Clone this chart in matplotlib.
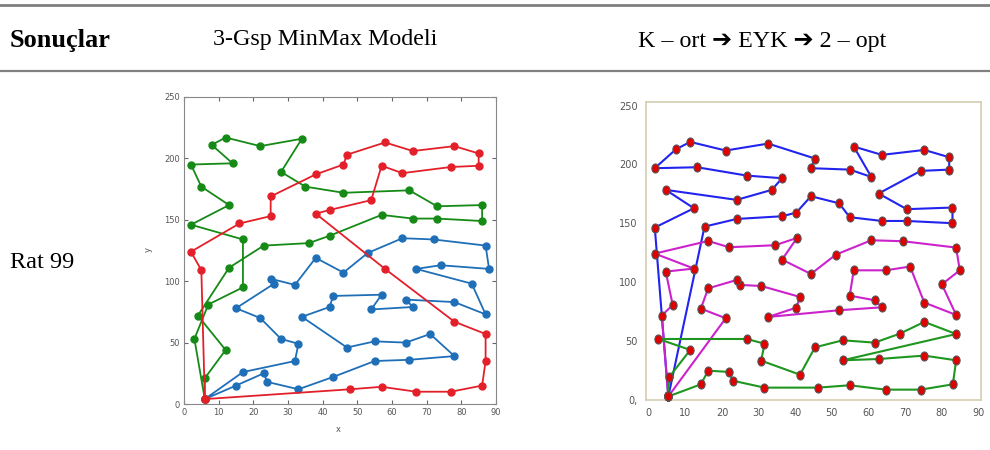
import matplotlib
matplotlib.use("Agg")
import matplotlib.pyplot as plt
from matplotlib.lines import Line2D
from matplotlib.markers import MarkerStyle
from matplotlib.transforms import Affine2D

# header texts
COL_TITLES = ["Sonuçlar", "3-Gsp MinMax Modeli", "K – ort ➔ EYK ➔ 2 – opt"]
ROW_LABEL = "Rat 99"

# left panel: 3-Gsp MinMax routes (depot first and last)
L_BLUE_X = [6, 17, 32, 33, 28, 22, 15, 26, 25, 32, 38, 46, 53, 63, 72, 87, 88, 74, 67, 83, 87,
            78, 64, 66, 54, 57, 43, 42, 34, 47, 55, 64, 71, 78, 65, 55, 43, 33, 24, 23, 15, 6]
L_BLUE_Y = [4, 26, 35, 49, 53, 70, 78, 98, 102, 97, 119, 107, 123, 135, 134, 129, 110, 113, 110, 98, 73,
            83, 85, 79, 77, 89, 88, 79, 71, 46, 51, 50, 57, 39, 36, 35, 22, 12, 18, 25, 15, 4]
L_GREEN_X = [6, 6, 12, 4, 13, 23, 36, 42, 57, 66, 73, 86, 86, 73, 65, 46, 35, 28, 34, 22,
             12, 8, 14, 2, 5, 13, 2, 17, 17, 7, 3, 6]
L_GREEN_Y = [4, 21, 44, 72, 111, 129, 131, 137, 154, 151, 151, 149, 162, 161, 174, 172, 177, 189, 216, 210,
             217, 211, 196, 195, 177, 162, 146, 134, 95, 81, 53, 4]
L_RED_X = [6, 48, 57, 67, 77, 86, 87, 87, 78, 58, 38, 42, 54, 57, 63, 77, 85, 85, 78, 66,
           58, 47, 46, 38, 25, 25, 16, 2, 5, 6]
L_RED_Y = [4, 12, 14, 10, 10, 15, 35, 57, 67, 110, 155, 158, 166, 194, 188, 193, 194, 204, 210, 206,
           213, 203, 195, 187, 169, 153, 147, 124, 109, 4]

# right panel: K-ort -> EYK -> 2-opt routes
R_BLUE_X = [5.3, 1.6, 12.3, 4.6, 24, 33.6, 36.4, 26.8, 13.2, 1.6, 7.4, 11.3, 21, 32.6, 45.4, 44.3, 54.9,
            60.8, 56, 63.7, 75.3, 82.1, 82.1, 74.3, 62.8, 70.5, 83, 83, 70.5, 63.7, 54.9, 52, 44.3,
            40.3, 36.4, 24, 15.2, 5.3]
R_BLUE_Y = [3, 146.4, 162.8, 178.4, 169.9, 178.4, 188.3, 190.5, 197.6, 196.8, 212.9, 219.1, 211.8, 217.7,
            205, 196.8, 195.6, 189.4, 215.2, 208.1, 212.3, 206.1, 195.6, 194.5, 175.3, 162, 163.4,
            150.1, 152, 152, 155.2, 167, 173, 159.1, 156, 153.7, 147.2, 3]
R_MAG_X = [5.3, 3.5, 6.5, 4.6, 12.3, 1.6, 16.2, 21.9, 34.5, 40.5, 36.4, 44.3, 51.1, 60.8, 69.5, 84, 85,
           80.1, 84, 75.3, 71.4, 64.8, 56, 54.9, 61.7, 63.7, 52, 32.6, 40.3, 41.3, 30.7, 24.9, 24,
           16.2, 14.2, 21, 5.3]
R_MAG_Y = [3, 71.6, 80.7, 109, 111.6, 124.3, 135, 129.7, 131.4, 137.6, 119.2, 107, 123.4, 135.6, 134.8,
           129.4, 110.1, 98.2, 72.2, 82.7, 113.3, 110.1, 110.1, 88.6, 84.7, 78.7, 76.2, 70.5, 78.4,
           87.5, 96.8, 97.7, 101.9, 94.8, 77.6, 69.4, 3]
R_GREEN_X = [5.3, 5.5, 11.3, 2.6, 26.8, 31.6, 30.7, 41.3, 45.4, 53, 61.7, 68.6, 75.3, 84, 53, 62.8,
             75.3, 84, 83.1, 74.3, 64.7, 54.9, 46.2, 31.6, 22.9, 22, 16.2, 14.2, 5.3]
R_GREEN_Y = [3, 19.3, 42.5, 51.8, 51.8, 47.8, 33.4, 21.5, 44.7, 50.7, 48.7, 56.3, 66.3, 56, 33.7, 34.8,
             37.7, 33.7, 13.3, 8.8, 8.8, 12.5, 10.5, 10.5, 16.4, 23.8, 24.9, 13.3, 3]

X_TICKS = [0, 10, 20, 30, 40, 50, 60, 70, 80, 90]
Y_TICKS = [0, 50, 100, 150, 200, 250]
R_Y_LABELS = ["0,", "50", "100", "150", "200", "250"]

W, H = 990, 450
SERIF = ["Liberation Serif", "DejaVu Sans"]

fig = plt.figure(figsize=(W / 100, H / 100), dpi=100)


def px(x, y):
    return x / W, 1 - y / H


# table rules
for yy, lw in [(5, 2.0), (71, 1.6)]:
    fig.add_artist(Line2D([0, 1], [1 - yy / H] * 2, transform=fig.transFigure, color="#808080", lw=lw))

fig.text(*px(10, 40), COL_TITLES[0], family=SERIF, fontsize=19, fontweight="bold", va="center")
fig.text(*px(213, 40), COL_TITLES[1], family=SERIF, fontsize=17.3, va="center")
fig.text(*px(638, 41), COL_TITLES[2], family=SERIF, fontsize=17.3, va="center")
fig.text(*px(10, 262), ROW_LABEL, family=SERIF, fontsize=17.5, va="center")

# left panel
axl = fig.add_axes([184 / W, 1 - 404 / H, 312 / W, 307 / H])
for xs, ys, c in [(L_BLUE_X, L_BLUE_Y, "#1f6fb8"), (L_GREEN_X, L_GREEN_Y, "#168a16"),
                  (L_RED_X, L_RED_Y, "#e3202a")]:
    axl.plot(xs, ys, color=c, lw=1.3, marker="o", ms=5, clip_on=False)
axl.set_xlim(0, 90)
axl.set_ylim(0, 250)
axl.set_xticks(X_TICKS)
axl.set_yticks(Y_TICKS)
axl.tick_params(direction="in", top=True, right=True, length=3, width=0.8,
                color="#666", labelcolor="#555", labelsize=6, pad=3)
for s in axl.spines.values():
    s.set_color("#888")
    s.set_linewidth(0.8)
fig.text(*px(148, 250), "y", fontsize=6, color="#555", rotation=90, ha="center", va="center")
fig.text(*px(338, 430), "x", fontsize=6, color="#555", ha="center", va="center")

# right panel
axr = fig.add_axes([646 / W, 1 - 400 / H, 335 / W, 298 / H])
dot = MarkerStyle("o", transform=Affine2D().scale(0.8, 1.0))
for xs, ys, c in [(R_BLUE_X, R_BLUE_Y, "#2323f0"), (R_MAG_X, R_MAG_Y, "#cc22cc"),
                  (R_GREEN_X, R_GREEN_Y, "#1f961f")]:
    axr.plot(xs, ys, color=c, lw=1.5, zorder=2, clip_on=False)
    axr.plot(xs, ys, ls="none", marker=dot, ms=6.5, mfc="#e00000", mec="#555", mew=0.8,
             zorder=3, clip_on=False)
axr.set_xlim(-0.8, 90.8)
axr.set_ylim(0, 253)
axr.set_xticks(X_TICKS)
axr.set_yticks(Y_TICKS)
axr.set_yticklabels(R_Y_LABELS)
axr.tick_params(length=0, labelcolor="#555", labelsize=7, pad=6)
for s in axr.spines.values():
    s.set_color("#d4cdb0")
    s.set_linewidth(1.2)

fig.savefig("out.png", dpi=100)
